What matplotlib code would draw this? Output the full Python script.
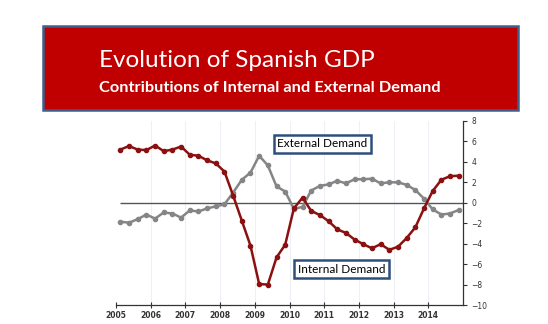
"""Spanish GDP growth: contributions of internal and external demand."""

import matplotlib

matplotlib.use("Agg")
from matplotlib import pyplot as plt  # noqa: E402
from matplotlib.patches import Rectangle  # noqa: E402

# quarterly observations, 2005 Q1 .. 2014 Q4 (percentage points)
quarters = [2005 + 0.125 + 0.25 * i for i in range(40)]
internal_demand = [
    5.2, 5.55, 5.2, 5.15, 5.6, 5.05, 5.2, 5.5,
    4.7, 4.6, 4.15, 3.85, 3.05, 0.7, -1.75, -4.2,
    -7.95, -8.0, -5.35, -4.1, -0.55, 0.5, -0.8, -1.2,
    -1.8, -2.6, -2.95, -3.6, -4.05, -4.45, -4.05, -4.6,
    -4.3, -3.45, -2.4, -0.55, 1.15, 2.25, 2.6, 2.65,
]
external_demand = [
    -1.85, -1.95, -1.6, -1.15, -1.55, -0.95, -1.05, -1.45,
    -0.75, -0.85, -0.55, -0.35, -0.15, 1.0, 2.25, 2.95,
    4.6, 3.65, 1.6, 1.1, -0.6, -0.4, 1.2, 1.65,
    1.8, 2.15, 1.9, 2.3, 2.3, 2.35, 1.9, 2.0,
    2.0, 1.75, 1.25, 0.4, -0.65, -1.15, -1.05, -0.7,
]
years = list(range(2005, 2015))
y_ticks = list(range(-10, 9, 2))

TITLE = "Evolution of Spanish GDP"
SUBTITLE = "Contributions of Internal and External Demand"

RED = "#8b1010"
GREY = "#858585"
BANNER = "#c00000"
BANNER_EDGE = "#3e5f8a"
BOX_EDGE = "#2e4f7c"

fig = plt.figure(figsize=(5.48, 3.24), dpi=100)
fig.patch.set_facecolor("white")

# header banner
fig.patches.append(
    Rectangle(
        (0.079, 0.661), 0.866, 0.258,
        transform=fig.transFigure, facecolor=BANNER,
        edgecolor=BANNER_EDGE, linewidth=1.8, zorder=0,
    )
)
fig.text(0.181, 0.793, TITLE, color="white", fontsize=17.5, family="Lato")
fig.text(0.181, 0.716, SUBTITLE, color="white", fontsize=11.8,
         family="Lato", fontweight="bold")

ax = fig.add_axes([0.2117, 0.0586, 0.6333, 0.568])
ax.set_xlim(2005, 2015)
ax.set_ylim(-10, 8)

for year in years[1:]:
    ax.axvline(year, color="#eef0f7", linewidth=0.8, zorder=0)
ax.hlines(0, quarters[0], 2015, color="#555555", linewidth=1.0, zorder=1)

ax.plot(quarters, external_demand, color=GREY, linewidth=1.8,
        marker="o", markersize=3.0, zorder=3)
ax.plot(quarters, internal_demand, color=RED, linewidth=1.8,
        marker="o", markersize=3.0, zorder=4)

label_box = dict(boxstyle="square,pad=0.3", facecolor="white",
                 edgecolor=BOX_EDGE, linewidth=1.8)
ax.text(2010.95, 5.75, "External Demand", ha="center", va="center",
        fontsize=8.5, family="Lato", color="black", bbox=label_box, zorder=6)
ax.text(2011.5, -6.5, "Internal Demand", ha="center", va="center",
        fontsize=8.5, family="Lato", color="black", bbox=label_box, zorder=6)

for side in ("left", "top"):
    ax.spines[side].set_visible(False)
for side in ("right", "bottom"):
    ax.spines[side].set_color("#333333")
    ax.spines[side].set_linewidth(0.9)

ax.set_xticks(years)
ax.set_xticklabels([str(y) for y in years], fontweight="bold")
ax.set_yticks(y_ticks)
ax.yaxis.tick_right()
ax.tick_params(axis="x", direction="inout", length=5, width=0.8,
               labelsize=5.5, pad=2, colors="#333333")
ax.tick_params(axis="y", direction="out", length=3, width=0.8,
               labelsize=5.5, pad=3, colors="#333333")

fig.savefig("out.png", dpi=100)
plt.close(fig)
